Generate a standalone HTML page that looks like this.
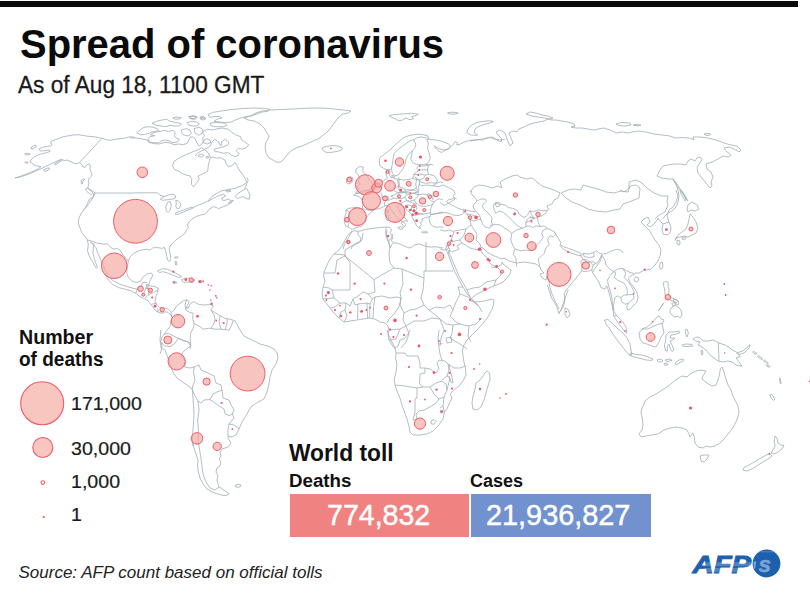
<!DOCTYPE html>
<html>
<head>
<meta charset="utf-8">
<title>Spread of coronavirus</title>
<style>
html,body{margin:0;padding:0;background:#fff;}
body{width:810px;height:594px;position:relative;overflow:hidden;font-family:"Liberation Sans",sans-serif;color:#111;}
.t{position:absolute;white-space:nowrap;line-height:1;transform-origin:0 0;}
#bar{position:absolute;left:0;top:0.6px;width:798px;height:6.2px;background:#0a0a0a;}
#title{left:19.5px;top:23.7px;font-size:41px;transform:scaleX(0.9745);font-weight:bold;color:#0b0b0b;}
#sub{left:18.3px;top:73.9px;font-size:23px;transform:scaleX(0.985);-webkit-text-stroke:0.3px #1a1a1a;color:#1a1a1a;}
#lg1{left:18.6px;top:326.8px;transform:scaleX(0.98);font-size:20px;font-weight:bold;}
#lg2{left:18.6px;top:348.5px;transform:scaleX(0.95);font-size:20px;font-weight:bold;}
.lv{font-size:18.5px;transform:scaleX(1.06);-webkit-text-stroke:0.2px #1a1a1a;color:#1a1a1a;}
#wt{left:289px;top:441.9px;font-size:23px;transform:scaleX(0.99);font-weight:bold;}
#dth{left:289px;top:472.1px;font-size:18px;transform:scaleX(1.04);font-weight:bold;}
#cas{left:470px;top:472.1px;font-size:18px;transform:scaleX(1.0);font-weight:bold;}
#rbox{position:absolute;left:290px;top:494px;width:179px;height:43px;background:#f08381;}
#bbox{position:absolute;left:471px;top:494px;width:180px;height:43px;background:#7191cf;}
.num{font-size:29px;color:#fff;-webkit-text-stroke:0.45px #fff;}
#src{left:18.5px;top:564.1px;font-size:17px;font-style:italic;color:#222;}
#circles .d{fill:#ee5566;fill-opacity:1;stroke:none;}
#map{position:absolute;left:0;top:0;width:810px;height:594px;}
</style>
</head>
<body>
<div id="bar"></div>
<svg id="map" viewBox="0 0 810 594">
<g id="land" fill="#fff" stroke="#9fadb5" stroke-width="0.8" stroke-linejoin="round">
<path d="M85.5 189.2L87.5 188.3L90.8 190.8L93.0 193.3L91.7 194.7L89.2 193.3L86.7 191.3ZM81.2 180.0L83.3 178.7L84.7 179.2L82.8 181.3L82.2 184.2L81.2 183.3ZM30.5 148.3L33.3 145.8L35.8 145.0L36.3 146.7L33.3 148.7ZM24.7 153.7L27.5 153.2L30.3 154.2L28.3 155.0L25.3 154.7ZM24.7 162.2L26.7 161.8L28.3 162.7L26.3 163.3ZM43.3 170.0L47.5 168.0L49.7 168.3L48.3 170.3L44.7 171.3ZM54.2 164.2L57.5 162.0L61.3 159.7L62.2 160.3L58.3 163.0L55.3 165.0ZM136.7 132.7L140.0 130.0L144.0 127.3L148.7 126.7L153.3 127.3L157.3 128.7L158.7 130.4L155.3 131.5L151.3 132.0L148.9 133.3L144.7 134.4L140.7 134.9ZM148.0 138.7L150.0 136.7L154.7 135.7L150.3 134.9L152.0 133.3L156.7 132.0L160.7 131.3L164.7 130.4L168.7 131.5L172.7 130.4L175.3 132.7L174.3 135.7L176.1 138.0L179.3 139.3L177.5 142.0L172.9 142.7L168.9 140.8L164.9 140.0L160.9 141.3L158.7 142.9L153.5 142.7L148.9 141.6ZM152.0 123.3L156.7 121.3L162.0 120.0L166.7 119.3L170.0 121.3L174.0 122.0L178.0 122.7L181.3 124.0L179.3 126.0L174.0 126.0L170.0 125.3L166.0 126.7L161.3 126.0L156.7 125.3ZM172.7 118.0L176.7 117.1L181.3 117.6L180.0 118.9L175.3 119.3ZM188.7 116.7L193.3 115.7L196.7 117.1L194.0 118.4L190.0 118.4ZM200.0 117.1L203.3 116.3L204.9 118.0L202.7 118.9L200.4 118.7ZM187.3 122.7L192.0 121.3L196.7 122.0L199.3 124.0L196.7 126.0L192.0 126.0L188.7 125.1ZM181.3 130.0L186.0 128.7L190.0 130.0L191.3 133.3L188.7 136.0L184.7 135.3L182.0 133.3ZM194.0 128.7L199.3 127.3L202.7 129.3L202.0 133.3L198.7 135.3L195.3 133.3ZM208.0 114.7L212.7 112.4L220.7 111.1L230.0 109.7L240.7 108.7L252.7 108.0L264.7 108.4L270.0 109.3L268.0 111.3L262.0 112.0L256.7 114.0L251.3 116.0L246.0 116.7L240.7 118.0L235.3 120.0L231.3 122.0L226.0 122.7L219.3 122.0L214.0 121.3L216.7 119.3L222.0 118.0L219.3 116.4L214.0 116.7L210.0 117.3ZM210.0 123.3L216.7 122.3L224.7 123.1L226.7 125.3L223.3 126.7L216.7 126.7L211.3 126.0ZM190.0 116.7L194.0 116.0L197.3 117.3L195.3 119.1L191.3 119.1ZM200.7 117.7L204.0 116.9L206.0 118.7L203.3 120.0L200.9 119.3ZM203.3 131.3L207.3 129.3L212.7 130.0L216.7 128.9L222.0 128.0L228.7 129.3L231.3 132.0L235.3 134.7L240.7 136.7L241.3 139.3L244.7 142.0L248.7 144.7L246.0 148.0L242.0 149.3L238.7 148.0L236.0 150.7L239.3 154.0L236.0 156.7L231.3 155.3L228.7 152.7L223.3 153.3L218.7 152.0L214.7 151.3L214.0 149.3L218.7 148.0L224.0 146.7L228.0 144.7L228.7 142.0L225.3 139.3L221.3 142.0L222.0 144.7L220.0 145.3L218.7 142.0L214.7 139.3L212.0 142.0L207.3 144.0L203.3 142.7L202.7 138.0L204.7 136.0L202.7 133.3ZM198.0 155.3L202.0 154.0L204.0 155.6L201.3 156.9L198.7 156.7ZM206.0 156.7L208.0 156.1L208.7 157.7L206.7 158.3ZM172.5 165.0L174.2 161.3L178.7 158.3L185.0 155.0L192.5 152.0L199.2 149.3L201.7 147.7L205.0 150.0L208.3 153.0L210.3 157.5L209.2 161.7L208.3 165.8L207.7 171.3L202.5 174.0L198.0 176.3L199.3 179.0L196.3 183.0L193.7 186.7L191.3 184.2L191.8 178.7L190.0 176.0L183.7 174.3L178.7 171.3L174.3 169.3L173.0 167.0ZM160.3 199.2L164.2 196.7L168.3 195.0L173.0 194.0L175.8 195.8L175.0 198.3L171.7 199.2L168.3 199.7L165.0 200.0L162.5 200.3ZM167.5 202.5L170.0 201.3L171.3 205.0L170.3 210.0L168.3 212.5L166.3 210.8L165.8 206.7ZM175.8 200.0L178.7 201.3L180.8 204.2L180.0 207.5L177.5 209.2L175.8 206.7L176.3 203.3ZM175.0 213.3L178.7 211.7L183.3 210.0L188.3 208.3L192.5 207.0L193.3 208.0L188.3 210.0L183.3 212.0L178.7 214.0L175.8 214.7ZM235.0 196.7L238.3 193.3L243.3 190.0L246.7 188.3L248.3 191.7L250.0 195.0L249.2 199.2L245.8 198.3L243.3 196.7L240.0 197.5L237.5 198.7ZM225.8 190.8L230.0 190.0L230.8 191.3L226.7 192.0ZM157.5 270.8L162.5 268.7L167.5 269.2L172.5 271.7L177.5 274.2L181.7 276.7L178.3 277.5L173.3 275.3L168.3 273.3L163.3 271.7L159.2 272.5ZM174.2 257.5L176.7 256.7L178.3 257.3L176.3 258.3ZM175.0 261.7L176.3 261.3L177.0 264.7L175.7 265.0ZM181.7 279.7L185.0 278.3L190.0 278.3L195.0 280.0L193.3 282.0L188.3 282.0L185.0 282.5L182.5 281.7ZM172.5 281.7L175.8 281.3L176.7 283.0L173.3 283.3ZM198.3 280.8L202.0 280.5L202.3 282.3L198.7 282.7ZM210.3 303.3L212.5 303.0L212.5 305.0L210.7 305.0ZM235.0 485.6L238.0 484.4L241.0 485.0L240.0 487.0L236.0 487.2ZM244.0 118.0L250.0 116.0L256.0 113.0L262.0 111.0L270.0 110.0L280.0 109.6L292.0 109.0L304.0 108.4L316.0 108.0L328.0 108.4L340.0 109.6L351.0 111.0L348.0 113.0L342.0 114.4L338.0 118.0L335.0 122.0L332.0 126.0L329.0 130.0L326.0 133.0L322.0 136.0L320.0 138.0L315.0 140.0L309.0 143.0L302.0 146.0L296.0 148.0L291.0 151.0L287.0 155.0L284.0 159.0L281.0 162.0L277.0 162.4L273.0 160.0L269.0 158.0L266.0 153.0L265.0 147.0L266.0 142.0L268.0 139.0L269.0 136.0L267.0 133.0L264.0 128.0L260.0 124.0L254.0 121.0L248.0 120.0ZM322.0 148.0L326.0 146.4L332.0 145.6L338.0 146.0L342.4 148.0L341.0 150.4L336.0 151.6L331.0 152.4L326.0 152.4L323.0 150.4ZM466.7 132.5L468.3 128.3L471.7 125.0L476.7 122.5L483.3 121.3L490.0 120.8L493.3 121.7L489.2 123.3L483.3 124.7L478.3 126.7L475.0 129.2L474.2 132.5L477.5 135.0L474.2 135.3L470.0 134.7ZM389.2 115.8L393.3 114.7L399.2 114.2L405.0 113.7L411.7 113.3L418.3 114.2L415.0 115.8L411.7 116.7L413.7 118.7L410.0 119.7L405.8 118.0L402.5 120.0L398.3 120.8L395.0 118.7L391.7 117.5ZM447.5 113.0L451.7 112.2L456.7 112.5L458.3 113.3L454.2 114.2L450.0 114.0ZM391.7 175.5L394.2 175.8L394.7 177.2L392.2 177.0ZM355.8 169.2L359.2 166.7L363.3 167.0L362.5 170.8L365.0 173.7L367.5 176.7L369.2 180.0L372.5 183.3L374.2 186.7L372.5 189.2L368.3 190.3L363.3 190.8L358.3 192.0L355.8 192.5L359.2 189.2L357.5 186.7L360.0 184.2L358.3 180.8L360.0 178.3L358.3 175.0L355.8 172.5ZM397.7 227.3L401.7 226.7L403.7 227.3L402.3 229.3L399.0 228.9ZM386.3 216.0L388.3 215.3L389.0 219.3L387.3 220.7L386.1 218.7ZM387.0 210.0L388.3 209.3L388.6 212.7L387.3 213.3ZM421.7 232.0L427.0 231.6L427.7 232.7L422.3 232.9ZM347.0 178.0L349.0 176.7L352.3 177.3L353.0 180.0L351.7 182.7L348.3 184.0L346.3 182.7ZM446.0 338.0L451.0 337.0L452.0 342.0L447.0 343.0ZM487.0 371.0L489.6 373.0L490.0 379.0L488.0 386.0L486.0 393.0L484.0 400.0L481.0 407.0L477.0 410.0L473.0 409.0L472.0 403.0L473.0 396.0L475.0 389.0L476.0 383.0L480.0 380.0L483.0 376.0L485.0 373.0ZM431.0 421.0L434.0 419.4L436.0 421.6L433.6 424.4L431.0 423.6ZM440.4 410.4L442.4 410.0L443.2 412.4L441.0 413.2ZM446.5 201.5L448.5 199.8L452.0 199.0L454.2 197.8L455.0 199.0L453.0 200.5L450.5 202.0L448.5 203.2ZM474.0 204.0L477.0 201.0L481.0 199.0L485.0 199.0L486.5 201.0L484.0 203.5L482.0 206.0L484.0 209.0L487.0 212.0L490.0 215.0L492.0 218.0L491.5 222.0L493.0 225.0L489.0 228.0L485.0 227.0L482.5 224.0L481.0 220.0L480.0 216.5L477.5 213.0L475.0 210.0L473.0 207.0ZM526.0 114.0L530.0 112.0L536.0 113.0L542.0 115.0L548.0 116.0L553.0 118.0L549.0 119.0L544.0 118.0L538.0 117.0L532.0 116.0ZM616.0 124.0L622.0 122.4L630.0 123.0L631.0 125.0L625.0 126.0L619.0 125.6ZM633.0 125.0L637.0 124.4L641.0 125.2L638.0 126.0ZM704.0 134.0L709.0 133.4L711.0 134.6L707.0 135.6ZM673.0 179.0L675.0 183.0L679.0 189.0L683.0 194.0L686.0 199.0L688.0 201.0L685.0 196.0L681.0 190.0L677.0 184.0L673.6 179.6ZM660.0 263.0L662.4 262.0L663.0 267.0L661.0 269.6L659.6 267.0ZM688.0 205.0L692.0 202.0L697.0 205.0L699.0 209.0L695.0 211.0L691.0 210.0L688.0 212.0L687.0 209.0ZM690.0 214.0L693.0 217.0L696.0 222.0L698.0 228.0L696.0 233.0L692.0 235.0L688.0 237.0L684.0 236.0L680.0 237.0L676.0 238.0L675.0 240.4L678.0 235.0L682.0 232.0L686.0 229.0L688.0 224.0L689.0 219.0ZM677.0 240.0L680.0 241.0L679.6 245.0L677.0 244.0ZM682.0 237.6L686.0 237.0L685.6 239.0L682.4 239.6ZM681.0 190.0L684.0 194.0L686.0 199.0L685.0 201.0L683.0 197.0L680.0 192.0ZM604.4 320.0L608.0 319.6L613.0 324.0L618.0 329.0L623.0 333.0L627.0 338.0L630.0 344.0L631.0 350.0L632.0 355.0L629.0 355.0L625.0 350.0L621.0 345.0L617.0 340.0L613.0 334.0L609.0 328.0L606.0 324.0ZM631.0 353.0L636.0 354.4L642.0 355.0L648.0 357.0L653.0 359.0L652.0 360.4L646.0 360.0L640.0 358.4L634.0 357.0L630.0 355.6ZM657.0 360.0L661.0 359.0L663.0 361.0L659.0 362.4ZM665.0 360.0L670.0 359.0L672.0 360.4L667.0 361.6ZM675.0 363.0L679.0 360.0L683.0 359.0L684.0 360.4L680.0 362.4L676.0 365.0ZM664.0 363.6L667.0 363.0L668.0 365.0L665.0 365.4ZM639.0 333.0L642.0 329.0L647.0 327.0L652.0 323.0L656.0 318.0L659.0 315.6L661.0 319.0L664.0 320.0L662.0 324.0L663.0 328.0L664.0 333.0L661.0 337.0L659.0 342.0L656.0 347.0L652.0 346.0L647.0 344.0L643.0 343.0L640.0 339.0ZM666.0 335.0L669.0 332.0L674.0 332.0L679.0 331.0L679.6 333.0L675.0 334.4L671.0 335.0L670.0 338.0L675.0 338.0L673.0 340.0L670.0 341.0L672.0 345.0L674.0 350.0L672.0 351.6L670.0 348.0L669.0 344.0L667.0 347.0L667.6 351.0L665.6 351.0L664.4 346.0L665.6 341.0ZM685.0 330.0L687.0 329.0L688.4 333.0L687.0 337.0L685.6 334.0ZM658.0 311.0L663.0 304.0L664.0 303.0L659.0 310.0ZM670.0 310.0L672.0 307.0L675.0 305.0L678.0 307.0L681.0 310.0L682.0 315.0L680.0 318.0L678.0 316.0L675.0 317.0L672.0 315.0L670.0 313.0ZM673.0 300.0L676.0 299.0L679.0 302.0L678.0 305.0L675.0 303.0ZM682.0 345.0L686.0 344.0L692.0 344.4L693.0 346.0L688.0 346.4L683.0 346.4ZM701.0 351.0L702.4 350.0L703.0 354.0L701.6 355.0ZM645.0 401.0L650.0 397.0L656.0 394.0L662.0 390.0L667.0 387.0L672.0 383.0L677.0 379.0L682.0 376.0L687.0 377.0L690.0 374.0L696.0 371.0L701.0 370.0L706.0 371.0L703.0 376.0L702.0 379.0L707.0 383.0L712.0 386.0L716.0 385.0L718.0 380.0L719.6 374.0L720.4 369.0L722.0 367.0L724.0 372.0L725.6 378.0L728.0 385.0L731.0 390.0L733.0 396.0L735.0 400.0L738.0 406.0L739.0 412.0L737.6 418.0L735.0 424.0L732.0 429.0L728.0 434.0L724.0 439.0L720.0 443.0L715.0 446.0L710.0 447.0L706.0 446.0L703.0 448.0L698.0 447.0L695.0 443.0L694.4 438.0L693.0 433.0L690.0 437.0L689.0 434.0L687.0 430.0L682.0 428.0L676.0 427.0L670.0 428.0L664.0 430.0L658.0 434.0L652.0 435.0L646.0 436.0L641.0 437.0L639.0 434.0L642.0 430.0L643.0 425.0L642.4 419.0L641.0 413.0L642.0 408.0L644.0 404.0ZM700.0 456.0L704.0 455.0L709.0 455.0L707.0 459.0L704.0 462.0L701.0 461.0ZM775.0 436.0L777.0 438.0L778.0 443.0L781.0 445.0L784.0 445.6L782.0 449.0L778.0 452.0L774.0 454.0L771.0 453.0L773.0 450.0L775.0 446.0L774.4 441.0ZM770.0 454.0L772.0 456.0L768.0 459.0L763.0 462.0L758.0 465.0L752.0 469.0L747.0 471.0L743.0 470.0L744.0 467.6L749.0 465.0L755.0 461.6L761.0 458.0L766.0 455.0ZM769.6 395.0L772.0 394.4L775.0 399.0L773.6 400.4L771.0 398.0ZM779.6 378.0L780.4 378.4L781.0 383.6L780.0 383.2ZM565.0 308.0L568.3 309.7L570.0 314.7L567.3 318.0L565.0 314.7ZM736.7 353.0L743.3 350.7L748.3 346.3L750.0 344.7L749.3 348.0L744.0 353.0L738.3 354.7ZM753.3 351.3L756.7 353.3L756.0 354.7L752.7 352.3ZM758.3 355.3L762.7 358.7L762.0 359.7L757.7 356.7ZM764.0 359.7L768.3 363.0L767.7 364.0L763.3 360.7ZM766.7 364.7L770.0 366.3L769.3 367.3L766.0 365.7ZM634.2 279.2L635.8 277.0L638.3 277.5L638.7 280.0L636.7 282.0L634.5 281.3ZM663.3 282.5L665.8 281.3L668.3 282.5L668.0 286.7L669.2 290.8L668.3 295.0L670.8 297.5L675.0 299.2L677.5 300.8L676.7 302.5L673.3 301.3L670.0 300.0L666.7 298.3L665.0 295.0L664.7 290.0L663.7 285.8ZM671.7 303.3L674.7 302.7L675.8 305.0L673.3 306.3ZM495.0 203.0L498.3 202.0L500.3 203.7L499.2 206.3L496.3 206.7Z"/>
<path fill="none" d="M135.0 137.5L130.0 136.7L125.0 138.0L120.0 138.7L115.0 139.3L110.0 140.3L106.7 139.7L102.0 138.3L98.3 137.5L93.3 136.7L88.3 136.3L83.3 135.5L78.3 134.7L73.3 135.0L68.3 135.8L63.3 136.7L59.2 138.3L55.8 139.7L52.0 140.8L50.0 142.5L52.0 144.2L50.8 146.0L47.5 146.3L42.5 147.3L39.3 148.7L40.3 151.0L45.0 150.7L49.3 150.0L50.0 151.3L46.7 152.7L41.7 153.7L37.5 155.3L33.3 157.5L31.0 160.0L30.3 162.3L32.7 163.3L34.3 165.3L37.7 166.0L41.0 166.7L38.3 168.7L33.3 171.2L28.3 173.3L23.3 175.3L18.3 177.0L15.0 177.8L18.7 177.5L25.0 175.3L31.7 172.8L37.5 170.3L42.5 168.0L45.3 166.7L48.3 165.0L51.7 163.7L55.0 162.0L59.2 160.0L62.7 159.5L64.3 160.8L66.7 160.0L70.0 161.3L73.3 163.0L76.7 163.7L79.7 162.7L81.7 164.2L82.8 166.7L85.0 167.5L86.7 165.0L89.2 163.7L90.3 165.8L90.0 169.2L91.3 172.5L92.0 175.0L90.8 176.7L89.2 178.3L88.3 180.8L88.8 183.3L88.3 185.8L87.8 188.3L90.8 190.0L93.7 192.0L95.3 193.0L94.3 195.3L93.3 197.5L91.3 200.0L89.2 203.3L86.7 206.7L84.2 209.0M102.0 138.3L79.7 162.3M95.3 193.0L135.0 193.0M130.0 138.0L135.3 137.9L142.0 138.9L147.3 140.0L148.7 142.4L154.0 143.7L159.3 144.0L164.9 142.4L170.0 142.9L174.0 144.7L178.7 144.0L183.3 144.7L187.3 143.3L188.7 140.0L190.3 137.3L192.7 136.8L195.3 138.9L196.7 142.7L199.3 146.0L202.0 144.0L204.0 140.0L206.7 138.7L210.0 140.0L211.3 144.0L208.7 147.3L204.7 149.3L200.7 151.3L197.3 153.3L195.3 156.0M210.3 157.5L213.3 157.0L216.7 158.3L220.0 157.5L225.0 160.0L226.3 164.2L228.3 166.7L231.7 165.8L235.0 162.5L237.0 165.8L239.2 170.0L242.5 174.2L245.0 178.3L247.0 182.5L246.3 185.8L244.2 188.3M94.2 192.8L92.7 197.5L89.3 199.2L87.5 203.3L85.0 208.3L81.7 212.5L79.2 217.5L78.3 222.5L79.7 227.5L81.7 232.5L85.0 236.7L87.5 240.0L88.3 245.0L87.5 250.8L89.2 255.8L91.7 260.0L94.2 265.0L96.3 268.3L97.5 267.3L95.8 263.3L94.2 258.3L93.0 253.3L93.3 248.3L94.2 244.2L92.0 243.3L90.3 241.7M90.3 241.7L95.8 247.5L98.3 254.2L100.8 260.0L103.3 265.8L105.8 271.7L108.3 276.7L113.3 280.8L120.0 284.2L127.5 286.7L133.3 288.3L138.3 289.3M87.5 240.0L90.8 240.8L96.7 243.0L103.3 244.2L107.5 243.7L110.0 246.7L113.3 249.2L116.7 248.3L120.0 250.0L122.5 254.2L125.8 258.3L128.3 261.3M165.0 247.5L161.7 248.3L156.7 247.5L152.5 248.0L150.3 250.0L146.7 249.2L141.7 250.0L136.7 251.7L132.5 254.2L129.7 257.5L128.3 261.3L127.5 266.7L126.7 272.5L128.3 277.5L131.7 280.8L136.7 282.5L140.8 280.8L143.3 276.7L146.7 274.2L150.8 273.0L153.0 274.7L151.3 278.3L149.7 281.7L148.3 285.8L147.5 289.0M135.0 192.8L157.5 192.8L160.0 195.3L164.2 196.3M193.3 207.5L198.3 205.0L203.3 203.3L208.3 200.8L210.8 197.5L214.2 195.0L218.3 192.5L221.7 190.8L225.8 190.0L235.0 188.3L241.7 185.8L245.8 183.3L248.3 180.8L247.0 177.5M208.3 201.3L213.3 198.3L218.3 195.8L223.3 194.2L225.8 195.8L221.7 198.3L223.3 200.8L228.3 199.2L231.7 200.8L228.3 203.3L230.8 201.7L233.3 200.0L231.7 202.5L227.5 205.0L222.5 207.0L218.3 208.7L216.7 207.5L213.3 206.7L209.2 209.2L206.7 212.5L205.0 214.2L200.8 215.0L196.7 216.3L192.5 218.7L189.2 221.7L187.5 225.0L188.3 227.5L186.3 230.0L185.0 233.3L181.7 235.8L178.0 238.3L174.2 241.7L170.8 245.0L169.2 248.3L170.0 253.3L170.8 258.3L169.7 261.7L167.5 260.0L166.7 255.8L165.8 251.7L164.7 248.0M105.0 274.2L108.3 280.0L112.5 284.2L118.3 287.5L125.0 289.2L130.8 290.8L135.8 293.3L140.0 296.7L144.2 298.7L147.5 300.3L150.0 303.3L152.5 306.7L155.8 310.8L159.2 312.5L162.5 313.3L165.8 311.7L168.3 312.5L170.8 315.0L172.0 317.5L170.8 320.8L170.0 326.7L166.7 330.8L164.2 334.2L161.7 337.5L160.8 341.7L162.0 345.8L161.3 350.0L160.0 354.0M147.5 289.0L146.7 284.2L150.0 285.8L155.0 286.7L158.3 288.3L157.5 292.5L155.8 296.7L155.0 301.7L156.7 305.0L159.2 307.5L162.5 308.3L165.8 308.0L169.2 310.0L171.7 312.5L174.2 310.0L176.7 305.8L180.0 303.3L183.3 300.8L186.7 299.7L189.2 301.7L187.5 305.0L186.3 308.3L188.3 308.0L190.0 304.2L193.3 301.7L198.3 304.2L203.3 305.0L208.3 304.7L211.7 304.2L213.3 306.7L210.8 310.0L215.0 312.5L220.0 315.8L225.0 318.3L230.0 319.2L235.0 320.8M135.8 293.3L137.5 288.3L141.7 285.8L142.5 282.5L147.0 282.5M146.7 284.7L145.8 288.3L144.2 292.5L141.7 295.8M145.8 288.3L150.0 289.2L148.3 295.0L153.3 292.5L158.3 290.0M145.0 298.0L148.3 295.0M151.7 304.2L156.7 303.3M157.5 308.3L158.3 312.5M170.8 312.5L172.0 317.5M186.7 299.7L185.0 305.0L185.8 310.0L190.0 312.5L193.3 313.3L192.5 318.3L194.2 323.3L193.3 328.3L190.8 332.5L190.0 338.3L190.8 345.8L190.0 349.2M164.2 334.2L168.3 333.3L173.3 335.8L178.3 338.3L183.3 340.8L188.3 341.7L190.8 345.8M160.8 341.7L164.2 345.8L170.0 346.7L175.0 343.3L178.3 338.3M194.2 323.3L200.0 326.7L203.3 329.2L208.3 328.3L210.8 328.3L213.3 325.0L215.0 320.0L214.2 315.0L210.8 310.0M210.8 328.3L215.0 329.2L220.8 329.2L225.0 329.7L229.2 330.0M220.0 315.8L219.2 321.7L220.8 329.2M227.5 318.7L226.7 325.0L225.0 329.7M233.3 320.8L230.8 326.7L229.2 330.0M160.8 330.0L160.0 340.0L161.0 348.0L165.0 350.0L168.0 358.0L170.0 365.0L173.0 372.0L177.0 378.0L183.0 382.4L190.0 387.0L192.4 390.0L193.0 398.0L193.6 406.0L194.0 414.0L193.6 422.0L193.0 430.0L192.4 438.0L192.4 446.0M235.0 320.8L240.0 330.0L244.0 336.0L252.0 340.0L260.0 344.0L268.0 346.0L274.0 349.0L277.0 353.0L278.0 358.0L276.0 364.0L272.0 370.0L270.0 377.0L269.0 384.0L267.0 392.0L264.0 399.0L258.0 402.0L252.0 406.0L249.0 410.0M178.4 338.4L188.0 342.0L190.8 345.8L189.0 347.0L183.0 352.0L181.0 356.0L186.0 362.0L184.4 367.0L190.0 368.0L194.0 367.0L193.6 373.0L195.0 380.0L192.4 387.0L192.4 390.0M194.0 367.0L199.0 365.0L201.0 370.0L208.0 373.0L214.0 376.0L216.0 383.0L221.0 385.0L222.0 390.0L217.0 392.0L213.0 394.0L210.0 399.6L204.0 400.0L201.0 403.0L198.0 401.0L195.0 396.0L192.4 390.0M222.0 390.0L223.0 398.0L229.0 400.0L231.0 405.0L234.0 410.0L232.4 414.0L229.0 415.6L225.0 414.0L224.0 409.0L218.0 405.0L210.0 399.6M232.4 414.0L234.0 418.0L229.0 424.0L228.0 430.0L228.0 436.0M229.0 424.0L234.0 425.0L239.0 429.0M198.0 401.0L199.0 410.0M249.0 410.0L246.0 416.0L242.0 422.0L239.0 429.0L236.0 435.0L231.0 437.0L228.0 436.0L228.0 438.0L231.0 443.0L228.0 447.0L222.0 449.0L220.0 452.0L221.0 456.0L219.0 459.0L221.0 462.0L220.0 466.0L217.0 468.0L216.0 472.0L218.0 476.0L217.0 480.0L218.0 484.0L219.0 487.0M192.4 440.0L194.0 448.0L196.0 454.0L198.0 460.0L197.6 466.0L198.4 472.0L200.0 478.0L203.0 484.0L207.0 489.0L212.0 492.0L218.0 494.0L224.0 495.6L228.0 495.0L229.0 493.6L225.0 491.0L221.0 488.0L219.0 487.0M199.0 410.0L197.6 420.0L198.4 430.0L198.0 440.0L199.6 450.0L201.0 458.0L202.0 466.0L203.0 474.0L206.0 482.0L210.0 488.0L215.0 490.0L219.0 487.0M391.3 169.2L389.2 170.0L385.0 169.2L380.0 165.8L379.2 160.8L380.0 157.5L383.3 155.0L386.7 152.5L390.8 149.2L394.2 145.8L397.5 142.5L400.8 140.0L404.2 137.5L408.3 135.8L413.3 134.7L418.3 134.2L423.3 134.7L427.5 135.8L429.2 138.0L426.7 139.2L430.0 139.2L435.0 140.0L440.0 140.8L445.0 142.5L449.2 144.2L450.8 146.7L448.3 149.2L444.2 150.0L440.0 149.2L436.7 147.5L434.2 145.8L435.8 148.3L438.3 150.8L441.7 152.5L444.2 150.8L449.2 148.3L453.3 144.2L455.0 141.7L457.5 142.5L456.7 145.0L460.0 144.2L463.3 142.5L468.3 140.8L473.3 140.0L478.3 139.7L483.3 140.0L485.8 138.3L490.0 137.5L495.0 139.2L500.0 140.0L505.0 139.2M391.3 169.2L392.5 163.3L393.3 157.5L394.2 153.3L397.5 150.0L401.7 146.7L405.8 143.7L410.0 140.8L413.7 139.7M413.7 139.7L415.8 144.2L414.7 148.3L412.5 150.8M413.7 139.7L417.5 137.5L421.7 137.0L425.8 138.0L427.5 136.3M426.7 139.2L428.3 143.3L427.5 148.3L429.2 153.3L430.3 158.3L428.3 162.5L425.8 164.2M391.3 169.2L392.5 173.3L395.0 175.8L398.3 175.0L400.8 171.7L403.3 168.3L405.0 164.2L405.8 160.0L407.5 155.8L410.0 153.0L412.5 150.8L411.7 155.0L410.8 159.2L412.5 162.5L415.8 164.2L420.0 164.7L425.8 164.2L428.3 165.0L430.8 164.2L433.3 165.3M430.8 164.7L425.0 165.8L418.3 166.3L416.7 168.3L418.7 170.0L416.7 172.5L414.2 173.3L413.7 175.8L412.5 178.3L410.0 179.2L405.0 180.0L400.8 179.7L397.5 179.2L395.0 178.7L392.5 177.5L390.8 177.5L389.7 175.0L390.0 171.3L388.0 169.7L385.8 171.7L386.3 175.0L387.5 178.3L385.0 180.0L381.7 181.7L378.3 183.3M418.7 170.0L425.0 169.7L428.3 170.0M413.7 174.7L420.0 174.2L425.8 175.0M412.5 178.3L416.7 179.7L420.0 179.7M428.3 165.0L427.5 170.0L428.3 174.2L425.8 175.0L423.3 178.3L420.0 179.7M428.3 174.2L434.2 175.8L437.5 180.0L435.8 184.2L432.5 185.8L426.7 185.0L421.7 185.8L419.2 184.2L420.0 179.7M397.5 179.7L398.3 185.0L399.2 190.8M399.2 190.8L405.0 192.5L410.8 193.3L417.5 192.5L419.2 190.0L418.3 187.5L419.2 184.2M432.5 185.8L438.3 186.7L443.3 185.0L448.3 187.5L453.3 190.0L455.0 193.3L453.3 196.7L456.7 199.0M378.3 183.3L377.5 185.8L375.0 188.3L372.5 190.0M362.3 208.7L359.0 208.0L355.0 207.6L351.0 208.0L347.7 208.7L345.7 210.0L346.3 212.7L345.0 216.0L344.3 220.0L345.0 224.0L346.3 226.7L349.0 227.3L351.0 229.3L353.7 228.7L357.0 227.3L361.0 226.7L363.7 224.0L365.7 221.3L366.3 218.0L368.3 214.7L371.7 212.0L373.7 210.0L375.0 209.3L379.0 208.7L382.3 207.3L385.0 206.0L387.7 205.3L390.3 208.0L392.3 211.3L395.0 215.3L398.3 218.7L401.7 221.3L404.3 222.7L405.7 224.7L404.3 226.7L403.0 224.9L401.0 223.3L402.3 221.7L405.7 220.7L407.7 221.3L406.3 219.3L403.0 216.0L400.3 212.7L399.0 209.3L397.7 206.0L399.0 204.0L401.0 203.3M345.7 210.0L349.0 211.3L349.7 215.3L348.3 219.3L349.0 223.3L347.7 226.7M362.3 208.7L367.0 209.7L371.7 210.7L373.7 210.0M362.3 208.7L363.0 204.7L362.3 200.7L360.3 197.3L357.0 196.0L353.7 195.3L355.0 193.7L359.0 193.3L362.3 192.7L365.7 191.3L369.0 190.0L372.3 188.0M401.0 203.3L402.3 205.3L405.0 208.0L407.7 210.7L409.7 212.7L411.7 214.7L412.3 217.3L413.7 220.0L415.0 222.7L416.3 225.3L418.3 227.3L420.3 228.7L419.7 226.0L421.7 224.7L420.3 222.7L422.3 221.3L421.7 219.3L424.3 218.0L427.0 217.3L429.7 216.7L431.0 214.7L430.3 211.3L431.0 208.0L432.3 204.7L434.3 202.0L436.3 200.0L439.7 198.7L443.0 200.0M431.0 214.7L435.0 214.0L439.0 212.7L443.0 212.0M430.3 216.0L429.0 218.7L429.7 222.0L431.0 224.7L433.7 226.7L437.0 227.3L440.3 226.7L443.0 227.3M343.0 249.2L344.3 244.7L346.3 240.7L349.0 236.7L351.7 232.0L353.7 230.7L357.7 231.3L361.7 230.7L365.7 229.3L370.3 228.7L375.0 228.0L380.3 227.6L385.7 227.1L389.7 227.3L391.7 229.3L390.3 232.7L391.7 235.3L393.0 238.0L391.0 240.7L393.7 242.7L397.7 243.3L401.7 244.7L405.7 246.7L409.7 248.0L412.3 246.7L415.0 244.7L419.0 244.0L423.0 245.3L427.0 246.7L431.0 247.1L435.0 246.7L439.0 247.3L443.0 248.0M386.3 227.3L385.4 232.7L387.0 237.3L389.0 242.0L389.7 247.3M393.7 242.7L391.7 244.7L390.3 248.0M357.7 231.3L358.3 235.3L361.0 238.0L360.3 242.0L356.3 244.0L352.3 246.0L351.0 249.2M398.7 177.3L399.0 182.0L399.7 186.7L404.3 188.7L409.0 190.0L413.7 189.3L416.3 188.0L415.7 183.3L417.0 179.3L415.0 176.7M393.7 188.7L397.7 186.7L399.7 186.7M404.3 188.7L405.7 191.3L401.7 192.7L397.7 192.7L395.0 191.3L393.7 188.7M391.0 196.0L395.0 194.7L397.7 192.9L401.7 192.9L405.7 192.0L406.3 194.7L405.0 197.3L401.0 198.7L397.0 198.7L393.7 198.0L391.0 196.0M405.7 191.6L409.7 190.7L413.7 190.0L416.6 191.3L415.0 193.3L411.0 194.0L407.0 194.7M415.0 193.7L418.3 194.7L417.0 197.3L414.3 200.0L409.7 201.3L406.3 200.0L405.3 197.3M418.3 194.7L423.0 194.0L427.0 194.7L429.0 198.7L431.7 201.3L434.3 202.0M414.3 200.0L416.3 203.3L420.3 206.0L425.7 206.3L431.0 204.9L433.0 204.0M417.7 213.3L423.0 214.0L428.3 213.3L431.0 212.7M401.0 203.3L403.7 202.0L406.3 200.7L409.7 201.7L413.0 203.1L415.7 204.0L417.0 208.0L415.7 210.7M405.0 205.7L409.0 204.9L411.7 206.0L411.3 210.0L409.0 211.3M412.3 214.7L415.0 215.3L417.7 214.7L420.3 214.0L423.0 214.3M416.3 188.0L418.3 192.0L418.3 194.7M415.0 176.7L420.3 182.0L425.7 183.3L431.0 182.7L436.3 183.3L440.3 182.0L443.0 182.7M427.0 194.7L429.0 193.3L432.3 196.7L433.0 200.0M382.3 197.3L385.0 196.0L388.3 196.7L389.0 198.7L386.3 200.4L383.3 200.0L382.3 197.3M385.0 206.0L384.3 202.7L386.3 200.4L389.7 200.0L393.7 198.3M382.3 197.3L381.7 193.3L379.7 191.3M352.0 231.0L348.0 235.0L345.0 240.0L342.0 246.0L339.0 250.0L334.0 254.0L330.0 259.0L327.0 265.0L324.4 271.0L323.6 276.0L325.0 281.0L323.0 287.0L322.0 293.0L323.0 299.0L326.0 303.0L330.0 308.0L334.0 313.0L339.0 318.0L344.0 322.0L350.0 321.0L357.0 320.0L363.0 319.0L369.0 318.0L375.0 319.0L380.0 322.0L385.0 323.0L388.0 326.0L389.0 330.0L388.0 334.0L389.0 340.0L392.0 345.0L395.0 348.8M334.0 254.0L345.0 255.0L345.0 256.0L337.0 260.0L336.0 267.0L335.0 273.0L324.4 273.0M363.0 233.0L362.0 240.0L355.0 244.0L350.0 247.0L345.0 250.0L345.0 256.0M345.0 256.0L350.0 262.0L350.0 290.0L332.0 290.0L329.0 288.0L323.0 287.0M345.0 256.0L374.0 279.6L380.0 276.0L394.0 268.0L390.0 263.0L389.0 254.0L390.0 246.0L388.0 241.0L386.0 236.0L387.0 230.0M388.0 241.0L391.0 239.0L393.0 234.0M394.0 268.0L402.0 269.0L424.0 278.0L424.0 271.0L426.0 271.0L426.0 242.0M426.0 271.0L453.0 271.0M374.0 279.6L375.0 292.0L368.0 294.0L363.0 292.0L358.0 296.0L353.0 299.0L350.0 306.0L346.0 303.0L340.0 303.0L334.0 298.0L332.0 290.0M402.0 269.0L403.0 284.0L400.0 292.0L401.0 298.0L397.0 297.0L390.0 298.0L382.0 296.0L375.0 297.0L372.4 299.0L368.0 294.0M424.0 278.0L423.0 290.0L421.0 298.0L424.0 305.0L416.0 309.0L410.0 310.0L404.0 313.0L400.0 305.0L401.0 298.0M401.0 298.0L399.0 307.0L394.0 314.0L389.0 319.0L387.0 323.0M375.0 297.0L373.6 307.0L373.0 318.0M370.0 304.0L369.6 318.0M367.0 303.0L367.6 318.4M358.0 304.0L357.6 319.0M353.0 299.0L355.0 305.0L358.0 304.0L367.0 303.0L370.0 304.0L372.4 299.0M346.0 303.0L345.0 310.0L347.0 316.0L344.0 322.0M339.0 318.0L341.0 312.0L345.0 310.0M323.0 299.0L332.0 298.0L334.0 298.0M330.0 308.0L335.0 307.0L340.0 303.0M404.0 313.0L403.0 320.0L406.0 326.0L400.0 329.0L389.0 330.0M406.0 326.0L414.0 321.0L424.0 321.0L432.0 318.0L440.0 319.0L434.0 314.0L429.0 310.0L424.0 305.0M429.0 310.0L436.0 307.0L444.0 308.0L450.0 305.0L453.0 310.0L450.0 316.0L456.0 322.0L460.0 324.0L453.0 325.0L446.0 324.0L440.0 319.0M453.0 310.0L456.0 302.0L460.0 294.0L458.0 287.0L463.0 287.0M460.0 294.0L468.0 297.0L475.0 303.0L478.0 306.0M460.0 324.0L468.0 326.0L476.0 324.0L482.0 318.0M469.0 326.0L468.0 336.0L471.0 342.0M453.0 325.0L452.0 334.0L450.0 338.0L460.0 344.0L467.0 348.8M389.0 340.0L396.0 339.0L398.0 334.0L400.0 329.0M406.0 326.0L409.0 334.0L406.0 342.0L401.0 348.0M440.0 319.0L444.0 330.0L441.0 338.0L440.0 346.0M447.0 245.0L450.0 250.0L448.0 254.0L445.6 249.0L447.0 245.0M448.0 254.0L451.0 262.0L454.0 270.0L458.0 278.0L463.0 287.0L467.0 294.0L472.0 299.0L477.0 304.0L480.0 308.0L482.0 312.0M387.0 330.0L389.0 336.0L392.0 342.0L395.0 348.0L396.0 353.0L395.6 358.0L397.0 365.0L396.0 372.0L394.4 379.0L395.0 385.0L397.0 391.0L400.0 398.0L402.0 405.0L404.4 412.0L407.0 419.0L409.0 426.0L410.0 432.0L413.0 435.0L420.0 435.0L427.0 434.0L433.0 431.0L438.0 426.0L443.0 419.0L444.4 412.0L447.0 409.0L449.0 404.0L452.0 398.0L450.0 394.0L454.0 390.0L459.0 386.0L463.0 381.0L466.0 375.0L465.6 369.0L464.0 362.0L463.0 356.0L462.4 350.0L464.0 345.0L467.0 340.0L472.0 335.0L477.0 330.0M396.0 353.0L405.0 353.0L407.0 356.0L418.0 356.0L420.0 363.0L420.0 368.0L425.0 368.0L425.0 373.0L420.0 374.0L419.6 384.0L423.0 387.0L417.0 388.0L405.0 386.0L395.0 385.0M417.0 388.0L417.0 398.0L415.0 399.0L415.0 412.0L413.0 420.0L417.0 419.0L416.0 414.0L419.0 411.0L424.0 410.0L430.0 407.0L436.0 403.0L439.0 399.0L434.0 394.0L430.0 387.0L423.0 387.0M430.0 387.0L436.0 383.0L442.0 381.0L446.0 384.0L447.0 390.0L444.0 397.0L439.0 399.0M425.0 368.0L430.0 369.0L436.0 373.0L439.0 369.0L437.0 363.0L439.0 360.0L445.0 361.0L448.0 364.0L449.0 370.0L447.0 376.0L442.0 380.0M449.0 364.0L450.0 370.0L452.0 377.0L453.0 383.0L451.0 382.0L449.0 376.0M448.0 364.0L454.0 368.0L460.0 368.0L465.6 366.0M439.0 348.0L440.0 354.0L442.0 360.0M447.0 376.0L450.0 378.0L447.0 390.0M444.0 397.0L443.0 406.0L444.4 412.0M443.0 406.0L440.0 408.0M395.0 348.0L398.0 346.0L400.0 340.0L404.0 339.0L408.0 334.0L410.0 330.0M439.0 330.0L438.0 338.0L439.0 348.0M439.0 344.0L442.4 343.6M440.0 230.0L445.0 231.0L450.0 230.0L454.0 232.0L453.0 235.0L451.0 240.0L449.0 245.0L448.0 249.0L444.0 250.0L440.0 249.0M480.0 247.0L483.0 248.0L487.0 252.0L492.0 255.0L497.0 257.0L501.0 259.0L504.0 258.0L509.0 261.0L517.0 263.0L524.0 262.0L531.0 263.0L536.0 264.0L540.0 267.0L541.0 270.0L544.0 273.0L540.0 274.0L542.0 278.0L546.0 280.0L547.0 276.0L549.0 282.0L550.0 288.0L552.0 294.0L555.0 301.0L559.0 308.8M480.0 249.0L483.0 254.0L487.0 258.0L489.0 262.0L492.0 265.0L497.0 267.0L501.0 265.0L502.4 262.0L503.0 264.0L507.0 267.0L511.0 270.0L510.0 274.0L507.0 278.0L503.0 282.0L499.0 284.0L494.0 286.0L489.0 288.0L483.0 291.0L477.0 294.0L473.0 297.0L471.0 299.0L470.0 297.0L467.0 290.0L463.0 283.0L459.0 276.0L456.0 269.0L453.0 262.0L450.0 255.0L448.0 250.0M471.0 301.0L477.0 302.0L484.0 301.0L492.0 299.0L494.0 300.0L493.6 304.0L492.4 308.8M463.0 211.0L467.0 214.0L470.0 220.0L471.0 225.0L466.0 229.0L460.0 230.0L454.0 231.0M463.0 209.0L470.0 211.0L475.6 211.6M467.0 214.0L473.0 215.0L477.0 217.0L479.6 216.4M470.0 220.0L474.0 221.0L479.0 219.0L481.0 220.0M466.0 229.0L464.0 235.0L460.0 240.0L452.0 241.6M460.0 240.0L462.0 243.0L457.0 246.0L459.0 249.0L452.0 252.0L449.0 250.0M471.0 225.0L473.0 228.0L477.0 234.0L476.0 240.0L480.0 244.0L481.0 247.0M462.0 243.0L470.0 248.0L477.0 250.0L479.6 248.0M467.0 290.0L473.0 288.0L480.0 287.0L486.0 282.0L496.0 280.0L501.0 275.0L500.0 270.0L498.0 268.0L491.0 267.0M496.0 280.0L494.0 286.0M440.0 202.5L442.0 204.0L444.0 205.2L446.5 204.5L448.2 203.2L450.5 204.3L453.5 205.8L456.5 207.5L460.0 209.0L463.5 210.0L464.6 211.6L463.5 213.2L461.5 214.5L458.0 215.5L454.0 215.2L450.0 213.8L446.0 212.5L442.0 212.8L438.0 213.5L434.0 214.0L430.8 214.5M471.5 190.0L471.0 193.0L473.0 196.0L476.0 198.5L477.0 201.0M470.0 141.0L476.0 140.0L482.0 139.0L487.0 138.0L492.0 137.0L497.0 140.0L501.0 142.0L502.0 139.0L498.0 135.0L496.0 132.0L500.0 130.0L505.0 133.0L507.0 139.0L510.0 146.0L513.0 143.0L511.0 138.0L509.0 133.0L513.0 131.0L517.0 132.0L519.0 129.0L524.0 127.0L528.0 125.0L534.0 123.0L539.0 122.0L544.0 121.0L548.0 119.0L552.0 120.0L556.0 120.0L562.0 121.0L568.0 122.0L574.0 124.0L575.0 126.0L571.0 127.0L576.0 128.0L582.0 128.0L588.0 129.0L594.0 130.0L598.0 129.0L604.0 128.0L610.0 130.0L616.0 133.0L622.0 132.0L628.0 133.0L632.0 132.0M470.0 192.0L474.0 187.0L479.0 185.0L486.0 186.0L492.0 188.0L498.0 186.0L502.0 188.0L500.0 182.0L505.0 179.0L512.0 176.0L517.0 175.0L520.0 177.0L526.0 179.0L532.0 178.0L537.0 182.0L542.0 186.0L548.0 188.0L554.0 190.0L560.0 193.0L558.0 198.0L554.0 200.0L552.0 204.0L547.0 206.0L549.0 210.0M561.0 193.0L568.0 190.0L574.0 189.0L581.0 190.0L583.0 185.0L590.0 187.0L598.0 189.0L606.0 192.0L614.0 193.0L621.0 191.0L628.0 192.0L630.0 186.0L636.0 185.0L640.0 188.0M561.0 193.0L566.0 198.0L572.0 202.0L580.0 205.0L588.0 209.0L596.0 211.0L606.0 212.0L614.0 210.0L620.0 209.0L623.0 204.0L629.0 202.0L634.0 200.0L639.0 198.0L640.0 188.0M632.0 132.0L638.0 131.0L646.0 132.0L654.0 134.0L662.0 135.0L670.0 136.0L675.0 138.0L682.0 137.6L690.0 138.0L694.0 140.0L693.0 137.0L700.0 137.0L708.0 138.0L716.0 140.0L724.0 143.0L731.0 145.0L737.0 146.0L741.0 150.0L739.0 152.0L734.0 149.0L729.0 147.0L724.0 148.0L726.0 151.0L731.0 155.0L728.0 157.0L723.0 156.0L718.0 159.0L712.0 162.0L706.0 164.0L707.0 169.0L711.0 172.0L713.0 177.0L711.0 182.0L712.0 186.0L710.0 188.0L706.0 183.0L702.0 178.0L698.0 173.0L697.0 168.0L699.0 164.0L702.0 160.0L700.0 157.0L697.0 158.0L695.0 161.0L691.0 159.0L688.0 161.0L686.0 165.0L680.0 164.0L674.0 164.0L668.0 165.0L663.0 166.0L660.0 170.0L657.0 176.0L662.0 178.0L668.0 179.0L673.0 179.0L676.0 184.0L678.0 190.0L679.0 196.0L678.0 202.0L676.0 207.0L672.0 211.0L668.0 213.0L665.0 216.0L663.0 218.8M620.0 190.0L624.0 192.0L629.0 188.0L629.0 182.0L636.0 180.0L642.0 183.0L647.0 188.0L654.0 193.0L662.0 196.0L668.0 196.0L667.0 202.0L668.0 205.0L665.0 212.0L661.0 214.0L658.0 216.0L655.0 218.8M676.0 190.0L678.0 196.0L676.0 202.0L673.0 207.0L669.0 210.0L667.0 216.0L669.0 222.0L671.0 228.0L670.0 233.0L667.0 235.0L663.0 234.0L662.0 229.0L663.0 224.0L660.0 221.0L658.0 218.0L657.0 220.0L654.0 224.0L650.0 227.0L647.0 225.0L650.0 222.0L648.0 217.0L644.0 219.0L641.0 222.0L645.0 226.0L649.0 230.0L652.0 235.0L655.0 240.0L659.0 245.0L661.0 250.0L660.0 256.0L658.0 261.0L655.0 265.0L651.0 269.0L646.0 270.0M663.0 224.0L669.0 222.0M642.0 329.0L648.0 329.0L654.0 326.0L659.0 324.0L663.0 323.0M732.0 350.0L730.0 348.0L725.0 345.0L719.0 343.0L713.0 340.0L708.0 341.0L703.0 341.0L700.0 337.6L696.0 337.0L693.0 339.0L696.0 341.0L700.0 342.0L698.0 345.0L702.0 347.0L706.0 350.0L710.0 355.0L714.0 358.0L718.0 361.0L722.0 362.0L728.0 361.0L732.0 362.0M718.4 343.0L719.0 361.0M547.3 284.7L551.7 298.0L556.7 306.3L559.0 313.7L561.7 308.0L565.0 298.0L568.3 289.7M732.0 350.0L736.7 352.0L740.0 356.3L736.0 358.0L740.0 363.0L742.0 366.3L736.7 365.3L732.0 362.0M492.3 308.7L488.3 316.3L483.3 323.0L477.0 330.0M560.0 311.7L563.3 306.7L565.0 300.0L564.2 293.3L567.5 288.3L571.7 283.3L575.8 278.3L579.2 274.2L581.7 270.8L585.0 271.7L589.2 270.8L591.7 270.0L592.5 272.5L595.8 277.5L599.2 282.5L600.8 287.5L605.0 289.2L606.7 285.8L608.3 290.0L610.0 296.7L611.7 303.3L613.0 310.0L613.7 315.8L615.8 319.2L618.3 323.3L621.7 327.5L624.2 330.8L626.7 333.3M581.7 270.8L581.7 266.7L580.8 261.7L582.5 259.2L587.5 260.0L590.8 262.5L593.3 265.0L591.7 270.0M593.3 265.0L598.3 261.7L601.7 255.0L600.8 260.0L597.5 265.0L594.2 269.2L592.5 272.5M601.7 255.0L605.0 260.0L605.8 265.0L610.0 269.2L613.3 271.7L610.0 275.8L607.5 280.0L608.3 285.0L610.0 290.0L611.7 296.7L613.0 310.0M613.3 271.7L615.8 272.5L614.2 277.5L617.5 280.0L620.8 281.7L624.2 283.3L626.7 287.5L627.5 291.7L626.7 295.0M613.3 271.7L617.5 269.2L622.5 268.3L626.7 270.8L630.0 272.5L633.3 273.3L634.2 274.2M622.5 268.3L625.8 273.3L624.2 277.5L628.3 281.7L631.7 286.7L634.2 291.7L633.3 294.2M620.8 297.5L624.2 295.0L626.7 295.0L633.3 294.2L634.2 298.3L630.8 300.8L628.3 303.3M620.8 297.5L621.7 301.7L625.0 304.2L628.3 303.3M634.2 274.2L630.8 275.8L628.3 278.3L630.0 282.5L633.3 286.7L636.7 291.7L638.0 297.5L636.7 302.5L633.3 305.8L630.0 309.2L627.5 310.0L626.7 306.7L628.3 303.3M620.8 297.5L617.5 295.8L615.0 297.5L614.2 301.7L613.3 306.7L614.2 311.7L616.7 315.8L619.2 318.3L622.5 321.7L625.8 326.7L626.7 330.8L626.7 333.3M613.7 315.8L616.7 315.8M646.0 270.0L643.3 270.8L638.3 273.3L635.8 272.8L634.2 274.2M547.5 210.0L543.3 210.8L538.3 210.0L533.3 211.7L530.0 210.8L527.5 215.0L524.2 217.5L520.0 215.0L516.7 210.0L512.5 208.3L508.3 207.5L505.0 205.0L500.0 204.2L495.0 203.3L493.3 205.8L494.2 210.0L495.8 213.3L499.2 210.8L503.3 212.5L507.5 215.8L511.7 220.0L515.8 224.2L519.2 226.7L522.5 228.3M522.5 228.3L525.8 226.7L525.8 222.5L527.5 219.2L530.0 216.7L534.2 218.3L531.7 215.0L530.0 210.8M547.5 210.0L545.8 213.3L541.7 215.8L537.5 217.5L534.2 218.3L530.0 217.5M525.8 222.5L530.0 220.8L534.2 218.3M537.5 217.5L538.3 222.5L540.0 226.7L535.8 225.8L532.5 227.5L529.2 225.8L525.8 226.7M490.0 225.8L495.0 224.2L500.0 225.0L505.0 228.3L509.2 230.8L511.7 233.3L510.8 240.0L512.5 245.0L515.0 249.2L513.3 254.2L515.8 258.3L516.7 266.7M511.7 233.3L516.7 230.0L522.5 228.3M540.0 226.7L544.2 225.8L547.5 228.3L543.3 230.0L541.7 233.3L543.3 237.5L540.0 241.7L536.7 245.0L535.8 249.2L530.8 250.8L525.8 250.0L520.8 250.8L515.0 249.2M547.5 228.3L550.8 230.0L554.2 231.7L555.8 234.2L553.3 236.7L550.0 235.8L547.5 240.0L549.2 244.2L545.8 248.3L544.2 253.3L540.8 256.7L538.3 259.0L539.7 266.7M554.2 231.7L555.8 234.2L558.3 238.3L560.8 242.5L560.0 245.8L563.3 249.2L570.0 252.5L576.7 255.0L580.8 255.8L580.8 253.3L575.0 250.8L568.3 248.3L563.3 246.7L560.8 245.0M580.8 255.8L583.3 253.3L588.3 254.2L593.3 252.5L596.7 250.8L599.2 253.3L603.3 254.2L606.7 253.3L611.7 250.8L617.5 249.2L621.7 250.8L623.3 253.3M583.3 253.7L584.2 256.7L590.0 257.5L594.2 256.7L593.7 252.8M580.8 255.8L583.3 260.0L588.3 262.5L593.3 261.7L596.7 264.2"/>
</g>
<g id="circles" fill="#f3a8a2" fill-opacity="0.68" stroke="#ee5c68" stroke-width="1">
<circle cx="135.5" cy="221.3" r="21.9"/><circle cx="247.6" cy="373.6" r="17.4"/><circle cx="114.2" cy="265.8" r="12.8"/><circle cx="559.0" cy="274.4" r="12.0"/><circle cx="365.4" cy="184.7" r="10.0"/><circle cx="395.0" cy="212.4" r="10.0"/><circle cx="371.4" cy="200.7" r="9.1"/><circle cx="357.4" cy="216.7" r="8.9"/><circle cx="176.6" cy="361.4" r="8.6"/><circle cx="493.4" cy="240.0" r="7.4"/><circle cx="447.2" cy="173.3" r="7.0"/><circle cx="178.0" cy="321.2" r="6.7"/><circle cx="197.0" cy="438.4" r="5.8"/><circle cx="420.0" cy="423.6" r="5.6"/><circle cx="390.0" cy="185.8" r="5.3"/><circle cx="142.3" cy="172.3" r="5.3"/><circle cx="376.6" cy="188.0" r="4.9"/><circle cx="448.0" cy="221.0" r="4.6"/><circle cx="469.4" cy="237.6" r="4.4"/><circle cx="531.6" cy="246.0" r="4.4"/><circle cx="650.6" cy="337.0" r="4.4"/><circle cx="217.2" cy="446.4" r="4.2"/><circle cx="439.6" cy="256.4" r="4.2"/><circle cx="399.5" cy="162.0" r="4.2"/><circle cx="167.8" cy="340.0" r="4.0"/><circle cx="378.6" cy="183.3" r="4.0"/><circle cx="611.0" cy="230.0" r="3.8"/><circle cx="585.8" cy="265.5" r="3.7"/><circle cx="206.6" cy="381.6" r="3.6"/><circle cx="475.0" cy="265.0" r="3.4"/><circle cx="422.6" cy="200.9" r="3.2"/><circle cx="140.5" cy="288.8" r="2.8"/><circle cx="667.8" cy="297.2" r="2.8"/><circle cx="435.9" cy="194.0" r="2.7"/><circle cx="408.7" cy="183.8" r="2.5"/><circle cx="349.4" cy="179.7" r="2.4"/><circle cx="385.0" cy="198.4" r="2.4"/><circle cx="347.0" cy="219.7" r="2.4"/><circle cx="369.0" cy="253.0" r="2.4"/><circle cx="515.4" cy="195.0" r="2.2"/><circle cx="538.0" cy="214.4" r="2.2"/><circle cx="526.0" cy="235.6" r="2.2"/><circle cx="150.3" cy="290.3" r="2.2"/><circle cx="162.2" cy="309.7" r="2.2"/><circle cx="191.3" cy="280.0" r="2.2"/><circle cx="386.0" cy="308.0" r="2.0"/><circle cx="691.0" cy="229.0" r="2.0"/><circle cx="439.6" cy="297.2" r="1.8"/><circle cx="470.0" cy="217.6" r="1.8"/><circle cx="449.0" cy="243.6" r="1.8"/><circle cx="429.9" cy="196.7" r="1.7"/><circle cx="399.0" cy="196.3" r="1.6"/><circle cx="348.3" cy="242.0" r="1.6"/><circle cx="348.4" cy="242.0" r="1.6"/><circle cx="465.4" cy="308.0" r="1.6"/><circle cx="502.0" cy="271.6" r="1.6"/><circle cx="143.3" cy="294.7" r="1.5"/><circle cx="387.5" cy="172.0" r="1.5"/><circle cx="427.2" cy="179.2" r="1.5"/><circle cx="410.3" cy="197.3" r="1.5"/><circle cx="413.9" cy="206.3" r="1.5"/><circle cx="424.3" cy="210.0" r="1.5"/><circle cx="395.0" cy="320.4" r="1.8" class="d"/><circle cx="459.4" cy="334.4" r="1.8" class="d"/><circle cx="476.0" cy="217.4" r="1.8" class="d"/><circle cx="479.6" cy="249.2" r="1.8" class="d"/><circle cx="485.0" cy="289.2" r="1.8" class="d"/><circle cx="416.3" cy="213.3" r="1.8" class="d"/><circle cx="328.4" cy="292.6" r="1.6" class="d"/><circle cx="690.6" cy="408.0" r="1.6" class="d"/><circle cx="420.5" cy="157.0" r="1.6" class="d"/><circle cx="400.7" cy="190.0" r="1.5" class="d"/><circle cx="406.6" cy="206.7" r="1.5" class="d"/><circle cx="413.9" cy="210.7" r="1.5" class="d"/><circle cx="155.0" cy="306.2" r="1.4" class="d"/><circle cx="197.5" cy="316.3" r="1.4" class="d"/><circle cx="185.8" cy="279.7" r="1.4" class="d"/><circle cx="200.0" cy="281.7" r="1.4" class="d"/><circle cx="361.6" cy="311.4" r="1.4" class="d"/><circle cx="419.0" cy="346.0" r="1.4" class="d"/><circle cx="434.0" cy="372.6" r="1.4" class="d"/><circle cx="488.0" cy="259.4" r="1.4" class="d"/><circle cx="496.6" cy="266.4" r="1.4" class="d"/><circle cx="514.6" cy="214.0" r="1.4" class="d"/><circle cx="666.4" cy="229.6" r="1.4" class="d"/><circle cx="416.6" cy="220.7" r="1.4" class="d"/><circle cx="385.5" cy="160.8" r="1.3" class="d"/><circle cx="410.3" cy="210.0" r="1.2" class="d"/><circle cx="412.6" cy="214.7" r="1.2" class="d"/><circle cx="388.0" cy="236.0" r="1.2" class="d"/><circle cx="406.6" cy="258.0" r="1.2" class="d"/><circle cx="338.0" cy="273.4" r="1.2" class="d"/><circle cx="354.6" cy="283.6" r="1.2" class="d"/><circle cx="411.0" cy="289.6" r="1.2" class="d"/><circle cx="341.0" cy="316.0" r="1.2" class="d"/><circle cx="350.4" cy="312.4" r="1.2" class="d"/><circle cx="436.6" cy="389.6" r="1.2" class="d"/><circle cx="441.6" cy="411.6" r="1.2" class="d"/><circle cx="480.0" cy="389.0" r="1.2" class="d"/><circle cx="489.6" cy="260.4" r="1.2" class="d"/><circle cx="152.2" cy="297.5" r="1.1" class="d"/><circle cx="173.3" cy="271.7" r="1.1" class="d"/><circle cx="223.7" cy="323.0" r="1.1" class="d"/><circle cx="400.3" cy="200.9" r="1.1" class="d"/><circle cx="388.1" cy="236.0" r="1.1" class="d"/><circle cx="546.7" cy="324.7" r="1.1" class="d"/><circle cx="810.0" cy="381.3" r="1.1" class="d"/><circle cx="644.7" cy="269.7" r="1.1" class="d"/><circle cx="620.3" cy="322.2" r="1.1" class="d"/><circle cx="221.6" cy="403.0" r="1.1" class="d"/><circle cx="384.4" cy="283.6" r="1.1" class="d"/><circle cx="326.0" cy="295.6" r="1.1" class="d"/><circle cx="335.0" cy="310.0" r="1.1" class="d"/><circle cx="360.6" cy="299.0" r="1.1" class="d"/><circle cx="416.6" cy="315.6" r="1.1" class="d"/><circle cx="390.0" cy="329.6" r="1.1" class="d"/><circle cx="393.4" cy="337.0" r="1.1" class="d"/><circle cx="404.0" cy="335.0" r="1.1" class="d"/><circle cx="470.0" cy="300.0" r="1.1" class="d"/><circle cx="480.0" cy="319.0" r="1.1" class="d"/><circle cx="409.0" cy="367.0" r="1.1" class="d"/><circle cx="449.6" cy="373.0" r="1.1" class="d"/><circle cx="451.6" cy="353.0" r="1.1" class="d"/><circle cx="452.0" cy="388.6" r="1.1" class="d"/><circle cx="410.0" cy="401.4" r="1.1" class="d"/><circle cx="457.6" cy="233.0" r="1.1" class="d"/><circle cx="450.6" cy="236.0" r="1.1" class="d"/><circle cx="451.6" cy="240.6" r="1.1" class="d"/><circle cx="531.4" cy="221.4" r="1.1" class="d"/><circle cx="568.0" cy="252.0" r="1.1" class="d"/><circle cx="174.2" cy="282.5" r="0.9" class="d"/><circle cx="203.3" cy="281.3" r="0.9" class="d"/><circle cx="216.3" cy="320.5" r="0.9" class="d"/><circle cx="419.7" cy="165.8" r="0.9" class="d"/><circle cx="419.2" cy="170.0" r="0.9" class="d"/><circle cx="418.3" cy="175.0" r="0.9" class="d"/><circle cx="615.0" cy="288.3" r="0.9" class="d"/><circle cx="625.0" cy="330.8" r="0.9" class="d"/><circle cx="215.8" cy="295.8" r="0.9" class="d"/><circle cx="211.7" cy="303.7" r="0.9" class="d"/><circle cx="232.4" cy="429.2" r="0.9" class="d"/><circle cx="331.0" cy="148.4" r="0.9" class="d"/><circle cx="410.3" cy="192.9" r="0.9" class="d"/><circle cx="326.4" cy="300.0" r="0.9" class="d"/><circle cx="340.0" cy="305.6" r="0.9" class="d"/><circle cx="366.4" cy="310.0" r="0.9" class="d"/><circle cx="370.0" cy="307.6" r="0.9" class="d"/><circle cx="381.0" cy="334.0" r="0.9" class="d"/><circle cx="445.0" cy="331.0" r="0.9" class="d"/><circle cx="425.0" cy="399.4" r="0.9" class="d"/><circle cx="474.0" cy="369.0" r="0.9" class="d"/><circle cx="506.0" cy="394.0" r="0.9" class="d"/><circle cx="439.0" cy="341.0" r="0.9" class="d"/><circle cx="465.4" cy="211.0" r="0.9" class="d"/><circle cx="453.6" cy="245.0" r="0.9" class="d"/><circle cx="724.4" cy="284.0" r="0.9" class="d"/><circle cx="725.6" cy="295.0" r="0.9" class="d"/><circle cx="769.4" cy="453.6" r="0.9" class="d"/><circle cx="208.3" cy="285.0" r="0.8" class="d"/><circle cx="211.3" cy="285.8" r="0.8" class="d"/><circle cx="210.0" cy="290.0" r="0.8" class="d"/><circle cx="216.7" cy="297.7" r="0.8" class="d"/><circle cx="210.8" cy="300.0" r="0.8" class="d"/><circle cx="600.0" cy="270.5" r="0.8" class="d"/><circle cx="633.7" cy="293.7" r="0.8" class="d"/><circle cx="652.5" cy="321.7" r="0.8" class="d"/><circle cx="479.6" cy="364.0" r="0.8" class="d"/><circle cx="500.0" cy="398.0" r="0.8" class="d"/><circle cx="724.6" cy="353.0" r="0.8" class="d"/><circle cx="566.3" cy="311.7" r="0.8" class="d"/>
</g>
<g id="legendc" fill="#f9c5bf" stroke="#ee5c68" stroke-width="1.1">
<circle cx="42.2" cy="403.3" r="21.5"/>
<circle cx="42.8" cy="447.5" r="10"/>
<circle cx="42.8" cy="482.6" r="1.8" fill="#fff"/>
<circle cx="43.7" cy="517" r="1.1" fill="#ee5b5f" stroke="none"/>
</g>
<g id="afp">
<circle cx="766.5" cy="563.5" r="13.9" fill="#1c60ae"/>
<text x="692.6" y="572.9" font-family="Liberation Sans, sans-serif" font-weight="bold" font-style="italic" font-size="24.2" textLength="58.5" lengthAdjust="spacingAndGlyphs" fill="#1c60ae" stroke="#1c60ae" stroke-width="0.9">AFP</text>
<text x="758.6" y="572.2" font-family="Liberation Sans, sans-serif" font-weight="bold" font-style="italic" font-size="21.5" textLength="12.5" lengthAdjust="spacingAndGlyphs" fill="#7ba3d6" stroke="#7ba3d6" stroke-width="0.5">s</text>
<path d="M753.5 561.5 L756.3 561.5 L755.2 568.5 L753.9 568.5Z" fill="#7ba3d6"/>
<path d="M704 562.2 L751 562.2 L750 566.2 L703 566.2Z M703 568 L748 568 L747.3 572.3 L702 572.3Z" fill="#fff" fill-opacity="0.22"/>
<path d="M756 551.3 L776 551.3 L776 552.3 L756 552.3Z" fill="#fff" fill-opacity="0.25"/>
</g>
</svg>
<div class="t" id="title">Spread of coronavirus</div>
<div class="t" id="sub">As of Aug 18, 1100 GMT</div>
<div class="t" id="lg1">Number</div>
<div class="t" id="lg2">of deaths</div>
<div class="t lv" id="v1" style="left:71px;top:395px;">171,000</div>
<div class="t lv" id="v2" style="left:71px;top:440.4px;">30,000</div>
<div class="t lv" id="v3" style="left:71px;top:473.2px;">1,000</div>
<div class="t lv" id="v4" style="left:71.3px;top:506px;">1</div>
<div class="t" id="wt">World toll</div>
<div class="t" id="dth">Deaths</div>
<div class="t" id="cas">Cases</div>
<div id="rbox"></div>
<div id="bbox"></div>
<div class="t num" id="n1" style="left:326.5px;top:501.4px;transform:scaleX(0.985);">774,832</div>
<div class="t num" id="n2" style="left:486px;top:501.4px;transform:scaleX(0.995);">21,936,827</div>
<div class="t" id="src">Source: AFP count based on official tolls</div>
</body>
</html>
